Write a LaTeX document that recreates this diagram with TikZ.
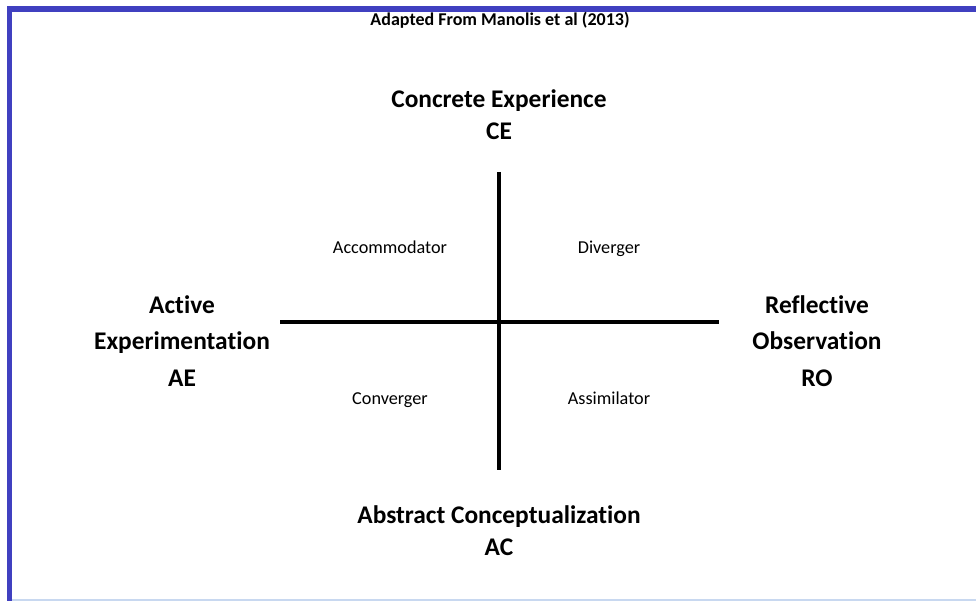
\documentclass[tikz,border=0pt]{standalone}
\usepackage{fontspec}
\setmainfont{Carlito}[Ligatures=NoCommon]
\definecolor{framebl}{RGB}{64,64,192}
\definecolor{lightbl}{RGB}{200,216,240}
\begin{document}
\begin{tikzpicture}[x=1pt,y=-1pt,
  head/.style={font=\bfseries\fontsize{25.4}{32}\selectfont, align=center, inner sep=0pt},
  side/.style={font=\bfseries\fontsize{25.4}{36.5}\selectfont, align=center, inner sep=0pt},
  quad/.style={font=\fontsize{18.2}{20}\selectfont, inner sep=0pt, anchor=base},
  axis/.style={line width=3.2pt}]
\useasboundingbox (0,0) rectangle (976,601);
\fill[white] (0,0) rectangle (976,601);
% frame
\fill[framebl] (7,6) rectangle (976,12);
\fill[framebl] (7,6) rectangle (12,601);
\fill[lightbl] (12,599) rectangle (976,601);
% title
\node[font=\bfseries\fontsize{18}{20}\selectfont, inner sep=0pt] (title) at (500,20) {Adapted From Manolis et al (2013)};
% axes
\coordinate (top) at (499,172);
\coordinate (bot) at (499,470);
\coordinate (lft) at (280,322);
\coordinate (rgt) at (719,322);
\draw[axis] (top) -- (bot);
\draw[axis] (lft) -- (rgt);
% headings
\node[head] (ce) at (499,115) {Concrete Experience\\CE};
\node[head] (ac) at (499,531) {Abstract Conceptualization\\AC};
\node[side] (ae) at (182,341) {Active\\Experimentation\\AE};
\node[side] (ro) at (817,341) {Reflective\\Observation\\RO};
% quadrants
\node[quad] (acc) at (390,254) {Accommodator};
\node[quad] (div) at (609,254) {Diverger};
\node[quad] (con) at (390,404) {Converger};
\node[quad] (ass) at (609,404) {Assimilator};
\end{tikzpicture}
\end{document}
